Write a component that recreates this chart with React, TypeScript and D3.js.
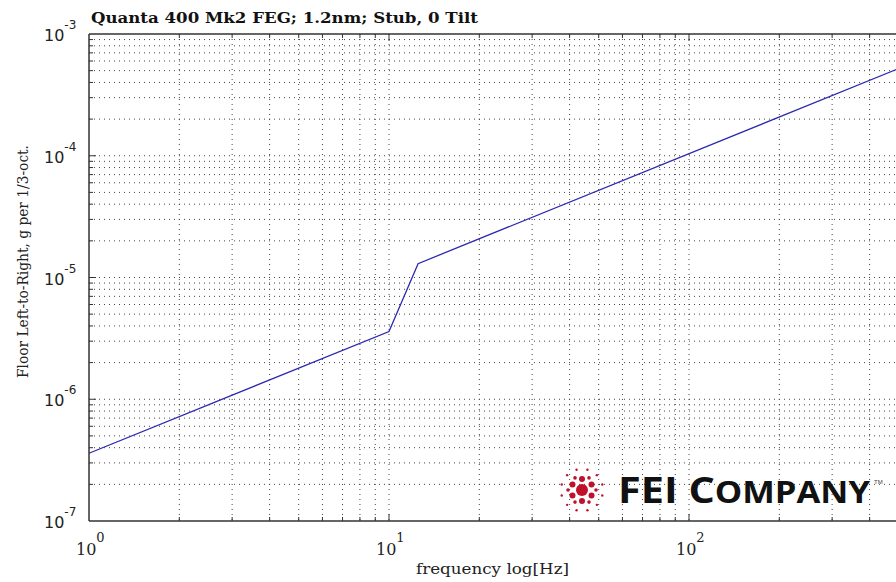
import { useEffect, useRef } from "react";
import * as d3 from "d3";

// chart values
const freqs = [1, 10, 12.5, 500];
const accel = [3.6e-7, 3.6e-6, 1.3e-5, 5.2e-4];
const xDecades = [0, 1, 2];
const yDecades = [-3, -4, -5, -6, -7];
const title = "Quanta 400 Mk2 FEG; 1.2nm; Stub, 0 Tilt";
const xTitle = "frequency log[Hz]";
const yTitle = "Floor Left-to-Right, g per 1/3-oct.";

function App() {
  const ref = useRef(null);

  useEffect(() => {
    const svg = d3.select(ref.current);
    svg.selectAll("*").remove();

    const left = 89;
    const top = 34;
    const bottom = 521;

    const x = d3.scaleLog().domain([1, 1000]).range([left, left + 900]);
    const y = d3.scaleLog().domain([1e-7, 1e-3]).range([bottom, top]);

    // minor positions for grid
    const xMinor: number[] = [];
    [1, 10, 100].forEach((d) => {
      for (let k = 1; k <= 9; k++) xMinor.push(d * k);
    });
    const yMinor: number[] = [];
    [1e-7, 1e-6, 1e-5, 1e-4].forEach((d) => {
      for (let k = 1; k <= 9; k++) yMinor.push(d * k);
    });

    const grid = svg.append("g");
    grid
      .selectAll("line.vx")
      .data(xMinor.filter((f) => f > 1))
      .enter()
      .append("line")
      .attr("x1", (d) => x(d))
      .attr("x2", (d) => x(d))
      .attr("y1", top)
      .attr("y2", bottom)
      .attr("stroke", "#444")
      .attr("stroke-width", 1)
      .attr("stroke-dasharray", "1,4");
    grid
      .selectAll("line.hy")
      .data(yMinor.filter((v) => v > 1e-7))
      .enter()
      .append("line")
      .attr("x1", left)
      .attr("x2", 896)
      .attr("y1", (d) => y(d))
      .attr("y2", (d) => y(d))
      .attr("stroke", "#444")
      .attr("stroke-width", 1)
      .attr("stroke-dasharray", "1,4");

    // logo
    const logo = svg.append("g");
    const cx = 582;
    const cy = 490;
    logo
      .append("circle")
      .attr("cx", cx)
      .attr("cy", cy)
      .attr("r", 6)
      .attr("fill", "#c0102a");
    for (let i = 0; i < 6; i++) {
      const a = (i * Math.PI) / 3 + Math.PI / 6;
      logo
        .append("circle")
        .attr("cx", cx + 11 * Math.cos(a))
        .attr("cy", cy + 11 * Math.sin(a))
        .attr("r", 3)
        .attr("fill", "#c0102a");
      const b = (i * Math.PI) / 3;
      logo
        .append("circle")
        .attr("cx", cx + 14 * Math.cos(b))
        .attr("cy", cy + 14 * Math.sin(b))
        .attr("r", 1.8)
        .attr("fill", "#c0102a");
    }
    for (let i = 0; i < 12; i++) {
      const a = (i * Math.PI) / 6 + Math.PI / 12;
      logo
        .append("circle")
        .attr("cx", cx + 21 * Math.cos(a))
        .attr("cy", cy + 21 * Math.sin(a))
        .attr("r", 1.2)
        .attr("fill", "#c0102a");
    }
    const lt = logo
      .append("text")
      .attr("x", 618)
      .attr("y", 503)
      .attr("font-family", "'Open Sans', 'DejaVu Sans', sans-serif")
      .attr("font-weight", 700)
      .attr("fill", "#111")
      .attr("textLength", 252)
      .attr("lengthAdjust", "spacingAndGlyphs");
    lt.append("tspan").attr("font-size", 36).text("FEI C");
    lt.append("tspan").attr("font-size", 30).text("OMPANY");
    logo
      .append("text")
      .attr("x", 874)
      .attr("y", 484)
      .attr("font-size", 6)
      .attr("font-family", "sans-serif")
      .attr("fill", "#444")
      .text("TM");

    // data line
    const pts = freqs.map((f, i) => [f, accel[i]]);
    svg
      .append("path")
      .datum(pts)
      .attr("fill", "none")
      .attr("stroke", "#2a2ab0")
      .attr("stroke-width", 1.3)
      .attr(
        "d",
        d3
          .line()
          .x((d) => x(d[0]))
          .y((d) => y(d[1]))
      );

    // frame
    const frame = svg.append("g").attr("stroke", "#333").attr("stroke-width", 1.5);
    frame.append("line").attr("x1", left).attr("x2", 896).attr("y1", top).attr("y2", top);
    frame.append("line").attr("x1", left).attr("x2", 896).attr("y1", bottom).attr("y2", bottom);
    frame.append("line").attr("x1", left).attr("x2", left).attr("y1", top).attr("y2", bottom);

    // ticks
    const ticks = svg.append("g").attr("stroke", "#333").attr("stroke-width", 1);
    xMinor
      .filter((f) => f > 1)
      .forEach((f) => {
        const len = Number.isInteger(Math.log10(f)) ? 7 : 4;
        ticks.append("line").attr("x1", x(f)).attr("x2", x(f)).attr("y1", bottom).attr("y2", bottom - len);
        ticks.append("line").attr("x1", x(f)).attr("x2", x(f)).attr("y1", top).attr("y2", top + len);
      });
    yMinor
      .filter((v) => v > 1e-7)
      .forEach((v) => {
        const len = Math.abs(Math.log10(v) - Math.round(Math.log10(v))) < 1e-6 ? 7 : 4;
        ticks.append("line").attr("x1", left).attr("x2", left + len).attr("y1", y(v)).attr("y2", y(v));
      });

    // x tick labels
    xDecades.forEach((e) => {
      const t = svg
        .append("text")
        .attr("x", x(Math.pow(10, e)) - 13)
        .attr("y", 555)
        .attr("font-family", "'DejaVu Serif', serif")
        .attr("font-size", 16)
        .attr("fill", "#222");
      t.append("tspan").text("10");
      t.append("tspan").attr("dy", -13).attr("font-size", 13).text(String(e));
    });

    // y tick labels
    yDecades.forEach((e) => {
      const t = svg
        .append("text")
        .attr("x", 44)
        .attr("y", y(Math.pow(10, e)) + 7)
        .attr("font-family", "'DejaVu Sans', sans-serif")
        .attr("font-size", 16)
        .attr("fill", "#222");
      t.append("tspan").text("10");
      t.append("tspan").attr("dy", -12).attr("font-size", 12).text(String(e));
    });

    // titles
    svg
      .append("text")
      .attr("x", 91)
      .attr("y", 23)
      .attr("font-family", "'DejaVu Serif', serif")
      .attr("font-weight", "bold")
      .attr("font-size", 14)
      .attr("fill", "#111")
      .attr("textLength", 387)
      .attr("lengthAdjust", "spacingAndGlyphs")
      .text(title);

    svg
      .append("text")
      .attr("x", 416)
      .attr("y", 574)
      .attr("font-family", "'DejaVu Serif', serif")
      .attr("font-size", 14)
      .attr("fill", "#222")
      .attr("textLength", 153)
      .attr("lengthAdjust", "spacingAndGlyphs")
      .text(xTitle);

    svg
      .append("text")
      .attr("transform", "translate(28, 378) rotate(-90)")
      .attr("font-family", "'DejaVu Serif', serif")
      .attr("font-size", 14)
      .attr("fill", "#222")
      .attr("textLength", 233)
      .attr("lengthAdjust", "spacingAndGlyphs")
      .text(yTitle);
  }, []);

  return (
    <svg
      ref={ref}
      width={896}
      height={582}
      style={{ position: "absolute", left: 0, top: 0, background: "#fff" }}
    />
  );
}

export default App;
